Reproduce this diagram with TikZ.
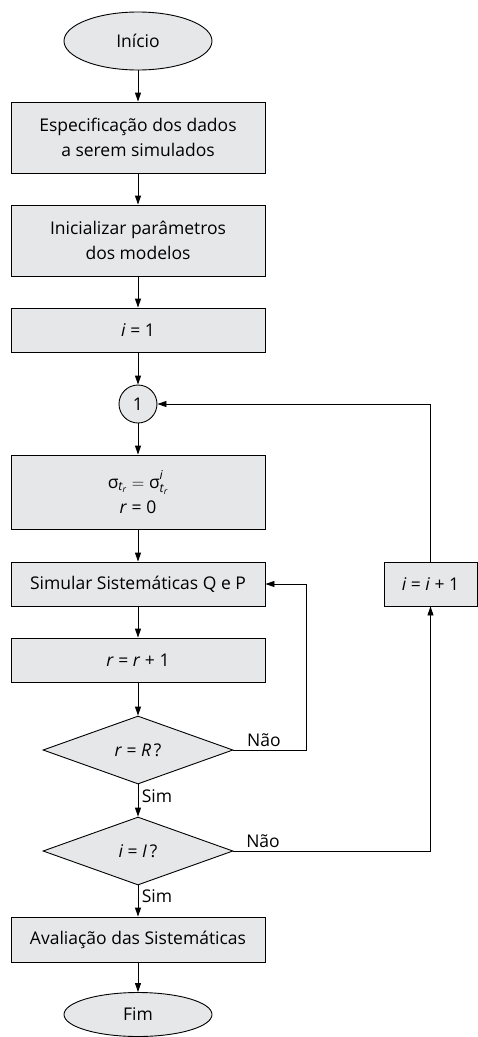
\documentclass[tikz,border=0pt]{standalone}
\usepackage{amsmath}
\usepackage{fontspec}
\setmainfont{Open Sans}
\usepackage{tikz}
\usetikzlibrary{shapes.geometric,arrows.meta}
\definecolor{boxgray}{RGB}{230,231,232}
\tikzset{
  every node/.style={font=\fontsize{17.5}{25}\selectfont},
  procbox/.style={draw, rectangle, fill=boxgray, line width=0.9pt, minimum width=254pt, align=center, inner sep=0pt},
  termbox/.style={draw, ellipse, fill=boxgray, line width=0.9pt, minimum width=148pt, inner sep=0pt},
  testbox/.style={draw, diamond, fill=boxgray, line width=0.9pt, minimum width=190pt, minimum height=68pt, inner sep=0pt},
  flow/.style={line width=0.9pt, -{Triangle[length=9pt,width=6pt]}},
  lbl/.style={font=\fontsize{17.5}{20}\selectfont}
}
\newcommand{\tsub}{_{\textit{t}_{\textit{r}}}}
\begin{document}
\begin{tikzpicture}[x=1pt,y=-1pt]
  \useasboundingbox (0,0) rectangle (478,1037);

  % main column
  \node[termbox, minimum height=58pt] (start) at (138,41) {Início};
  \node[procbox, minimum height=71pt] (spec) at (138,137.5) {Especificação dos dados\\a serem simulados};
  \node[procbox, minimum height=71pt] (init) at (138,240.5) {Inicializar parâmetros\\dos modelos};
  \node[procbox, minimum height=44pt] (ione) at (138,330) {\textit{i} = 1};
  \node[draw, circle, fill=boxgray, line width=0.9pt, minimum size=38pt, inner sep=0pt] (con) at (138,404) {1};
  \node[procbox, minimum height=74pt] (sig) at (138,492) {$\text{σ}\tsub = \text{σ}^{\text{\raisebox{0.3ex}{\textit{i}}}}\tsub$\\\textit{r} = 0};
  \node[procbox, minimum height=44pt] (sim) at (138,584) {Simular Sistemáticas Q e P};
  \node[procbox, minimum height=44pt] (rinc) at (138,660) {\textit{r} = \textit{r} + 1};
  \node[testbox] (dr) at (138,750) {\textit{r} = \textit{R}\,?};
  \node[testbox] (di) at (138,851) {\textit{i} = \textit{I}\,?};
  \node[procbox, minimum height=45pt] (aval) at (138,939.5) {Avaliação das Sistemáticas};
  \node[termbox, minimum height=44pt] (fim) at (138,1014.5) {Fim};

  % right column
  \node[procbox, minimum width=93pt, minimum height=44pt] (inc) at (430.5,584) {\textit{i} = \textit{i} + 1};
  \coordinate (rloop) at (306,750);

  % connectors
  \draw[flow] (start) -- (spec);
  \draw[flow] (spec) -- (init);
  \draw[flow] (init) -- (ione);
  \draw[flow] (ione) -- (con);
  \draw[flow] (con) -- (sig);
  \draw[flow] (sig) -- (sim);
  \draw[flow] (sim) -- (rinc);
  \draw[flow] (rinc) -- (dr);
  \draw[flow] (dr) -- node[lbl, right, pos=0.35] {Sim} (di);
  \draw[flow] (di) -- node[lbl, right, pos=0.35] {Sim} (aval);
  \draw[flow] (aval) -- (fim);
  \draw[flow] (dr.east) -- node[lbl, above, pos=0.42] {Não} (rloop) |- (sim.east);
  \draw[flow] (di.east) -- node[lbl, above, pos=0.15] {Não} (di.east -| inc.south) -- (inc.south);
  \draw[flow] (inc.north) |- (con.east);
\end{tikzpicture}
\end{document}
